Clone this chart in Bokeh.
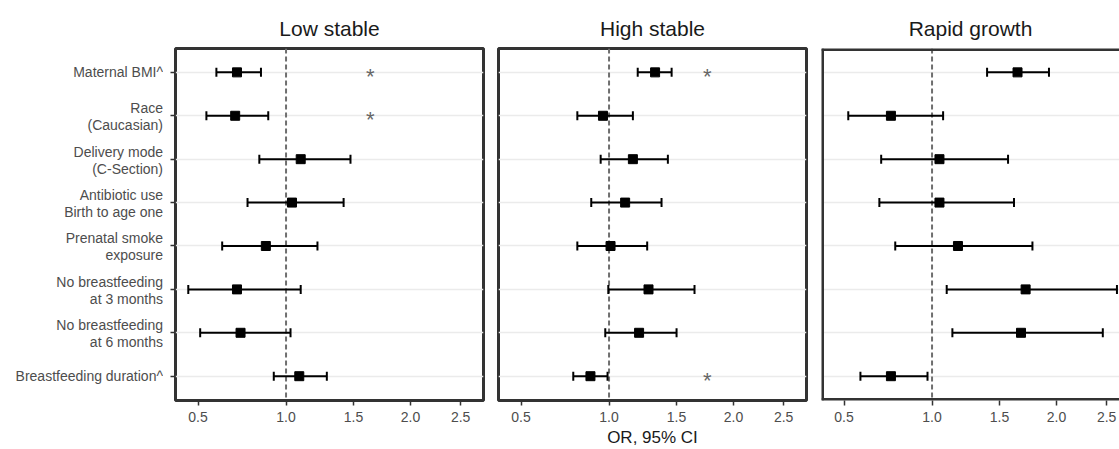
import numpy as np
from bokeh.plotting import figure
from bokeh.layouts import row
from bokeh.models import (ColumnDataSource, Range1d, FixedTicker, CustomJSTickFormatter,
                          Whisker, TeeHead, Span)
from bokeh.core.properties import value
from bokeh.embed import file_html
from bokeh.resources import INLINE

# ---------------- data ----------------
predictors = ["Maternal BMI^", "Race\n(Caucasian)", "Delivery mode\n(C-Section)",
              "Antibiotic use\nBirth to age one", "Prenatal smoke\nexposure",
              "No breastfeeding\nat 3 months", "No breastfeeding\nat 6 months",
              "Breastfeeding duration^"]
panels = ["Low stable", "High stable", "Rapid growth"]

low_or = [0.70, 0.69, 1.10, 1.04, 0.87, 0.70, 0.72, 1.09]
low_lo = [0.59, 0.54, 0.83, 0.76, 0.62, 0.455, 0.51, 0.92]
low_hi = [0.84, 0.885, 1.475, 1.42, 1.22, 1.10, 1.03, 1.29]

high_or = [1.33, 0.96, 1.165, 1.11, 1.01, 1.28, 1.21, 0.88]
high_lo = [1.20, 0.80, 0.945, 0.885, 0.80, 0.995, 0.975, 0.776]
high_hi = [1.46, 1.165, 1.43, 1.38, 1.27, 1.65, 1.50, 0.99]

rapid_or = [1.65, 0.745, 1.05, 1.05, 1.18, 1.72, 1.68, 0.745]
rapid_lo = [1.40, 0.52, 0.69, 0.68, 0.77, 1.10, 1.14, 0.58]
rapid_hi = [1.93, 1.075, 1.57, 1.62, 1.78, 2.61, 2.46, 0.97]

low_sig = [1, 1, 0, 0, 0, 0, 0, 0]
high_sig = [1, 0, 0, 0, 0, 0, 0, 1]
rapid_sig = [1, 0, 0, 0, 0, 0, 1, 1]
star_x = [1.64, 1.76, 2.69]

x_ticks = [0.5, 1.0, 1.5, 2.0, 2.5]
# --------------------------------------

FONT = "Liberation Sans"
rows_idx = list(range(1, len(predictors) + 1))
X_START, X_END = 0.632, 1.6573          # sqrt-scale range of a full panel
FRAME_W = 308
SCALE = (X_END - X_START) / FRAME_W
Y_RANGE = (8.56, 0.45)
LABEL_W = 163


def base_fig(width, mbl, mbr, x_range):
    p = figure(width=width, height=449, output_backend="svg", toolbar_location=None,
               x_range=x_range, y_range=Range1d(*Y_RANGE),
               min_border_left=mbl, min_border_right=mbr,
               min_border_top=48, min_border_bottom=47)
    p.background_fill_color = "white"
    p.border_fill_color = "white"
    return p


# ---- left column with the predictor labels (right aligned lines) ----
lab = base_fig(LABEL_W, 0, 0, Range1d(0, LABEL_W))
lab.outline_line_color = None
lab.axis.visible = False
lab.grid.visible = False
lx, ly, lt, lo = [], [], [], []
for r, name in zip(rows_idx, predictors):
    parts = name.split("\n")
    offs = [0.0] if len(parts) == 1 else [-7.5, 9.5]
    for part, off in zip(parts, offs):
        lx.append(LABEL_W - 0.5)
        ly.append(r)
        lt.append(part)
        lo.append(off)
lab.text(x="x", y="y", text="t", y_offset="o",
         source=ColumnDataSource(dict(x=lx, y=ly, t=lt, o=lo)),
         text_font=value(FONT), text_font_size="14px", text_color="#4d4d4d",
         text_align="right", text_baseline="middle")


def make_panel(title, ors, los, his, sig, sx, kind):
    if kind == "first":
        width, mbl, mbr, fw = 12 + FRAME_W + 7, 12, 7, FRAME_W
    elif kind == "mid":
        width, mbl, mbr, fw = 8 + FRAME_W + 7, 8, 7, FRAME_W
    else:
        width, mbl, mbr, fw = 8 + 298, 8, 0, 298
    x_end = X_START + fw * SCALE
    p = base_fig(width, mbl, mbr, Range1d(X_START, x_end))

    p.title.text = title
    p.title.align = "center"
    p.title.text_font = FONT
    p.title.text_font_size = "21px"
    p.title.text_font_style = "normal"
    p.title.text_color = "#1a1a1a"
    p.title.standoff = 17

    if kind == "last":
        p.outline_line_color = None
        for loc, dim in [(X_START, "height"), (Y_RANGE[1], "width"), (Y_RANGE[0], "width")]:
            p.add_layout(Span(location=loc, dimension=dim, line_color="#333333", line_width=5))
    else:
        p.outline_line_color = "#333333"
        p.outline_line_width = 3
        p.outline_line_alpha = 1.0

    # x axis (sqrt scale)
    p.xaxis.ticker = FixedTicker(ticks=[float(np.sqrt(t)) for t in x_ticks])
    p.xaxis.formatter = CustomJSTickFormatter(code="return (tick*tick).toFixed(1);")
    p.xaxis.axis_line_color = None
    p.xaxis.major_tick_line_color = "#333333"
    p.xaxis.major_tick_line_width = 1.5
    p.xaxis.major_tick_out = 5
    p.xaxis.major_tick_in = 0
    p.xaxis.minor_tick_line_color = None
    p.xaxis.major_label_text_font = FONT
    p.xaxis.major_label_text_font_size = "14px"
    p.xaxis.major_label_text_color = "#4d4d4d"
    p.xaxis.major_label_standoff = 6
    if kind == "mid":
        p.xaxis.axis_label = "OR, 95% CI"
        p.xaxis.axis_label_text_font = FONT
        p.xaxis.axis_label_text_font_size = "17px"
        p.xaxis.axis_label_text_font_style = "normal"
        p.xaxis.axis_label_text_color = "#1a1a1a"
        p.xaxis.axis_label_standoff = 3

    # y axis: tick marks only on the first panel
    p.yaxis.ticker = FixedTicker(ticks=rows_idx)
    if kind == "first":
        p.yaxis.formatter = CustomJSTickFormatter(code="return '';")
        p.yaxis.axis_line_color = None
        p.yaxis.major_tick_line_color = "#333333"
        p.yaxis.major_tick_line_width = 1.5
        p.yaxis.major_tick_out = 5
        p.yaxis.major_tick_in = 0
        p.yaxis.minor_tick_line_color = None
        p.yaxis.major_label_standoff = 0
    else:
        p.yaxis.visible = False

    p.xgrid.visible = False
    p.ygrid.ticker = FixedTicker(ticks=rows_idx)
    p.ygrid.grid_line_color = "#ebebeb"
    p.ygrid.grid_line_width = 1.5

    p.add_layout(Span(location=1.0, dimension="height", line_color="#6e6e6e",
                      line_width=2, line_dash="5 3", level="underlay"))

    src = ColumnDataSource(dict(
        y=rows_idx,
        x=np.sqrt(ors), lo=np.sqrt(los), hi=np.sqrt(his)))
    p.add_layout(Whisker(source=src, base="y", lower="lo", upper="hi", dimension="width",
                         line_color="black", line_width=2,
                         upper_head=TeeHead(size=9, line_color="black", line_width=2),
                         lower_head=TeeHead(size=9, line_color="black", line_width=2)))
    p.scatter(x="x", y="y", source=src, marker="square", size=9,
              fill_color="black", line_color="black")

    sy = [r for r, s in zip(rows_idx, sig) if s]
    p.text(x=[float(np.sqrt(sx))] * len(sy), y=sy, text=["*"] * len(sy),
           text_font=value(FONT), text_font_size="22px", text_color="#666666",
           text_align="center", text_baseline="middle", y_offset=4)
    return p


p1 = make_panel(panels[0], low_or, low_lo, low_hi, low_sig, star_x[0], "first")
p2 = make_panel(panels[1], high_or, high_lo, high_hi, high_sig, star_x[1], "mid")
p3 = make_panel(panels[2], rapid_or, rapid_lo, rapid_hi, rapid_sig, star_x[2], "last")

p = row(lab, p1, p2, p3, spacing=0)
open("out.html", "w").write(file_html(p, INLINE))
